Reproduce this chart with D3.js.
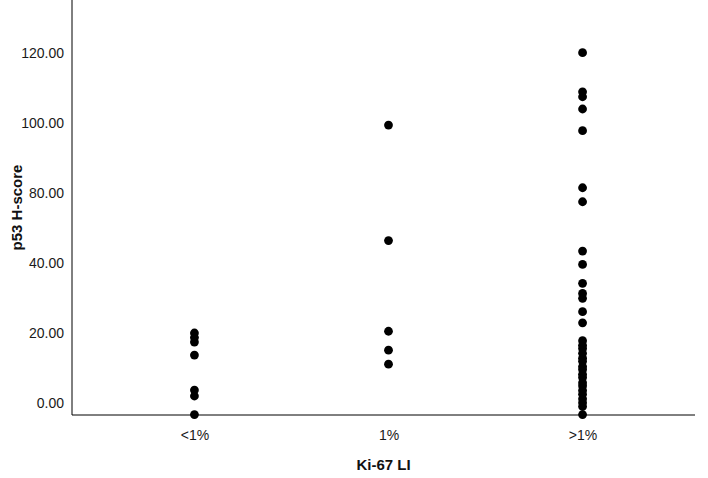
<!DOCTYPE html>
<html>
<head>
<meta charset="utf-8">
<script src="https://cdn.jsdelivr.net/npm/d3@7"></script>
<style>
  body { margin: 0; background: #fff; }
  svg { display: block; font-family: "Liberation Sans", Arial, sans-serif; }
</style>
</head>
<body>
<div id="chart"><svg width="708" height="478"></svg></div>
<script>
const CATEGORIES = ['<1%', '1%', '>1%'];
const LT1_VALUES = [20.0, 18.7, 17.4, 13.7, 3.7, 2.0, -3.3];
const EQ1_VALUES = [79.4, 46.4, 20.5, 15.1, 11.1];
const GT1_VALUES = [100.1, 88.9, 87.5, 84.0, 77.8, 61.5, 57.5, 43.4, 39.6, 34.2, 31.3, 29.9,
  26.1, 22.9, 17.8, 16.5, 15.6, 14.2, 12.8, 11.9, 10.4, 9.6, 8.2, 7.3, 5.8, 4.9, 3.6, 2.5,
  1.2, 0.1, -1.0, -3.3];
const Y_TICKS = [0, 20, 40, 60, 80, 100];
const Y_TICK_LABELS = ['0.00', '20.00', '40.00', '80.00', '100.00', '120.00'];

const SVG = d3.select('#chart svg');
const LEFT = 72;
const RIGHT = 695;
const TOP = 0;
const BOTTOM = 415;

const points = [
  ...LT1_VALUES.map((v) => ({ cat: CATEGORIES[0], v })),
  ...EQ1_VALUES.map((v) => ({ cat: CATEGORIES[1], v })),
  ...GT1_VALUES.map((v) => ({ cat: CATEGORIES[2], v })),
];

// categories sit a bit right of the frame centre in the original
const X_SCALE = d3.scalePoint().domain(CATEGORIES).range([78, 699]).padding(0.6);
const Y_SCALE = d3.scaleLinear().domain([-3.43, 115.14]).range([BOTTOM, TOP]);

SVG.append('g')
  .attr('transform', `translate(${LEFT},0)`)
  .call(
    d3.axisLeft(Y_SCALE)
      .tickValues(Y_TICKS)
      .tickFormat((d, i) => Y_TICK_LABELS[i])
      .tickSize(0)
      .tickPadding(8)
  );

SVG.append('g')
  .attr('transform', `translate(0,${BOTTOM})`)
  .call(d3.axisBottom(X_SCALE).tickSize(0).tickPadding(15));

SVG.selectAll('.domain').remove();
SVG.selectAll('.tick text')
  .style('font-size', '14px')
  .style('fill', '#1a1a1a')
  .style('font-family', '"Liberation Sans", Arial, sans-serif');

// axis frame
SVG.append('path')
  .attr('d', `M${LEFT},${TOP}V${BOTTOM}H${RIGHT}`)
  .style('fill', 'none')
  .style('stroke', '#000')
  .style('stroke-width', 1);

SVG.append('g')
  .selectAll('circle')
  .data(points)
  .join('circle')
  .attr('cx', (d) => X_SCALE(d.cat))
  .attr('cy', (d) => Y_SCALE(d.v))
  .attr('r', 4.4)
  .style('fill', '#000');

SVG.append('text')
  .attr('x', (LEFT + RIGHT) / 2)
  .attr('y', 470)
  .style('text-anchor', 'middle')
  .style('font-size', '15px')
  .style('font-weight', 'bold')
  .style('fill', '#111')
  .text('Ki-67 LI');

SVG.append('text')
  .attr('transform', `translate(22,${(TOP + BOTTOM) / 2}) rotate(-90)`)
  .style('text-anchor', 'middle')
  .style('font-size', '15px')
  .style('font-weight', 'bold')
  .style('fill', '#111')
  .text('p53 H-score');
</script>
</body>
</html>
